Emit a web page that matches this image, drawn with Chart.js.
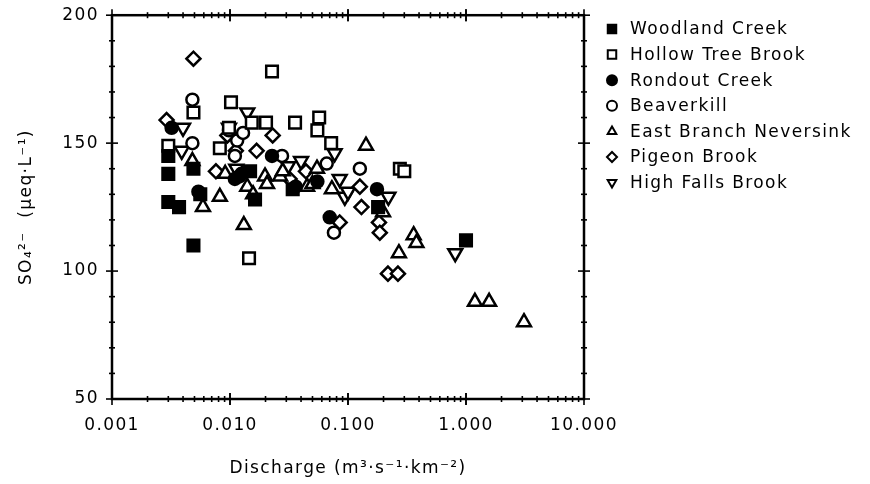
<!DOCTYPE html>
<html>
<head>
<meta charset="utf-8">
<script src="https://cdn.jsdelivr.net/npm/chart.js@4"></script>
<style>
  html, body { margin: 0; padding: 0; background: #fff; }
</style>
</head>
<body>
<canvas id="grafico" width="870" height="484"></canvas>
<script>
// datos: [descarga, SO4]
const woodland = [[0.003,145],[0.003,138],[0.003,127],[0.0037,125],[0.0049,140],[0.0049,110],
  [0.0056,130],[0.0148,139],[0.0163,128],[0.034,132],[0.18,125],[1.0,112]];
const hollowTree = [[0.003,149],[0.0049,162],[0.0102,166],[0.0098,156],[0.0082,148],[0.0145,105],
  [0.0153,158],[0.0202,158],[0.0227,178],[0.0356,158],[0.057,160],[0.055,155],[0.072,150],
  [0.275,140],[0.30,139]];
const rondout = [[0.0032,156],[0.0054,131],[0.011,136],[0.0125,138],[0.0227,145],[0.036,133],
  [0.055,135],[0.07,121],[0.176,132]];
const beaverkill = [[0.0048,167],[0.0048,150],[0.0098,155],[0.0115,151],[0.0129,154],[0.011,145],
  [0.012,137],[0.0276,145],[0.066,142],[0.076,115],[0.126,140]];
const eastBranch = [[0.0048,143],[0.0059,125],[0.0082,129],[0.0091,138],[0.0131,118],[0.014,133],
  [0.0157,130],[0.0198,137],[0.0206,134],[0.0266,137],[0.028,139],[0.045,133],[0.05,134],
  [0.0546,140],[0.073,132],[0.142,149],[0.198,123],[0.27,107],[0.36,114],[0.38,111],
  [1.19,88],[1.57,88],[3.1,80]];
const pigeon = [[0.0029,159],[0.0049,183],[0.0076,139],[0.0095,153],[0.0112,147],[0.0168,147],
  [0.023,153],[0.032,136],[0.044,139],[0.085,119],[0.126,133],[0.13,125],[0.183,119],
  [0.186,115],[0.218,99],[0.265,99]];
const highFalls = [[0.004,156],[0.0039,147],[0.0098,156],[0.0113,140],[0.014,162],[0.031,141],
  [0.04,143],[0.077,146],[0.085,136],[0.094,129],[0.1,131],[0.22,129],[0.81,107]];

const nombres = ["Woodland Creek", "Hollow Tree Brook", "Rondout Creek", "Beaverkill",
  "East Branch Neversink", "Pigeon Brook", "High Falls Brook"];
const xTicks = [0.001, 0.01, 0.1, 1, 10];
const yTicks = [50, 100, 150, 200];

const fuente = { family: "DejaVu Sans", size: 17 };

function serie(label, datos, estilo, relleno, radio, giro) {
  return {
    label: label,
    data: datos.map(p => ({ x: p[0], y: p[1] })),
    pointStyle: estilo,
    pointRadius: radio,
    pointHoverRadius: radio,
    rotation: giro || 0,
    pointRotation: giro || 0,
    pointBorderWidth: 2.5,
    borderColor: "#000",
    pointBorderColor: "#000",
    backgroundColor: relleno ? "#000" : "#fff",
    pointBackgroundColor: relleno ? "#000" : "#fff",
    showLine: false
  };
}

const datasets = [
  serie(nombres[0], woodland, "rect", true, 8.2),
  serie(nombres[1], hollowTree, "rect", false, 8.2),
  serie(nombres[2], rondout, "circle", true, 6),
  serie(nombres[3], beaverkill, "circle", false, 6),
  serie(nombres[4], eastBranch, "triangle", false, 8),
  serie(nombres[5], pigeon, "rectRot", false, 7),
  serie(nombres[6], highFalls, "triangle", false, 8, 180)
];

// ejes con marcas dentro y fuera, y leyenda a la derecha
const marcos = {
  id: "marcos",
  beforeDraw(chart) {
    chart.ctx.letterSpacing = "1.4px";
  },
  afterDraw(chart) {
    const { ctx, chartArea: a, scales: { x, y } } = chart;
    ctx.save();
    ctx.strokeStyle = "#000";
    ctx.lineWidth = 2.5;
    ctx.strokeRect(a.left, a.top, a.right - a.left, a.bottom - a.top);
    ctx.lineWidth = 1.6;
    const raya = (x1, y1, x2, y2) => { ctx.beginPath(); ctx.moveTo(x1, y1); ctx.lineTo(x2, y2); ctx.stroke(); };
    for (let v = 50; v <= 200; v += 10) {
      const py = y.getPixelForValue(v);
      const l = v % 50 === 0 ? 6 : 3;
      raya(a.left - l, py, a.left + l, py);
      raya(a.right - l, py, a.right + l, py);
    }
    for (let d = 0.001; d < 10; d *= 10) {
      for (let m = 1; m <= 10; m++) {
        const px = x.getPixelForValue(m * d);
        const l = (m === 1 || m === 10) ? 6 : 3;
        raya(px, a.bottom - l, px, a.bottom + l);
        raya(px, a.top - l, px, a.top + l);
      }
    }
    // leyenda
    ctx.font = "17px 'DejaVu Sans'";
    ctx.fillStyle = "#000";
    ctx.textBaseline = "middle";
    ctx.textAlign = "left";
    chart.data.datasets.forEach((ds, i) => {
      const yy = 29 + i * 25.6;
      ctx.save();
      ctx.lineWidth = 2;
      ctx.strokeStyle = "#000";
      ctx.fillStyle = ds.pointBackgroundColor;
      Chart.helpers.drawPoint(ctx, {
        pointStyle: ds.pointStyle,
        rotation: ds.pointRotation,
        radius: ds.pointStyle === "rect" ? 6 : 5,
        borderWidth: 2
      }, 612, yy);
      ctx.restore();
      ctx.fillText(ds.label, 630, yy + 1);
    });
    ctx.restore();
  }
};

new Chart(document.getElementById("grafico").getContext("2d"), {
  type: "scatter",
  data: { datasets: datasets },
  options: {
    responsive: false,
    animation: false,
    layout: { padding: { left: 0, top: 15, right: 286, bottom: 0 } },
    plugins: { legend: { display: false }, tooltip: { enabled: false } },
    scales: {
      x: {
        type: "logarithmic",
        min: 0.001,
        max: 10,
        afterBuildTicks: s => { s.ticks = xTicks.map(v => ({ value: v })); },
        afterFit: s => { s.height = 85; },
        grid: { display: false },
        border: { display: false },
        ticks: {
          color: "#000",
          font: fuente,
          padding: 8,
          maxRotation: 0,
          autoSkip: false,
          callback: v => Number(v).toFixed(3)
        },
        title: {
          display: true,
          text: "Discharge (m³·s⁻¹·km⁻²)",
          color: "#000",
          font: fuente,
          padding: { top: 0, bottom: 5 }
        }
      },
      y: {
        min: 50,
        max: 200,
        afterBuildTicks: s => { s.ticks = yTicks.map(v => ({ value: v })); },
        afterFit: s => { s.width = 112; },
        grid: { display: false },
        border: { display: false },
        ticks: { color: "#000", font: fuente, padding: 5 },
        title: {
          display: true,
          text: "SO₄²⁻  (μeq·L⁻¹)",
          color: "#000",
          font: fuente,
          padding: { top: 16, bottom: 0 }
        }
      }
    }
  },
  plugins: [marcos]
});
</script>
</body>
</html>
